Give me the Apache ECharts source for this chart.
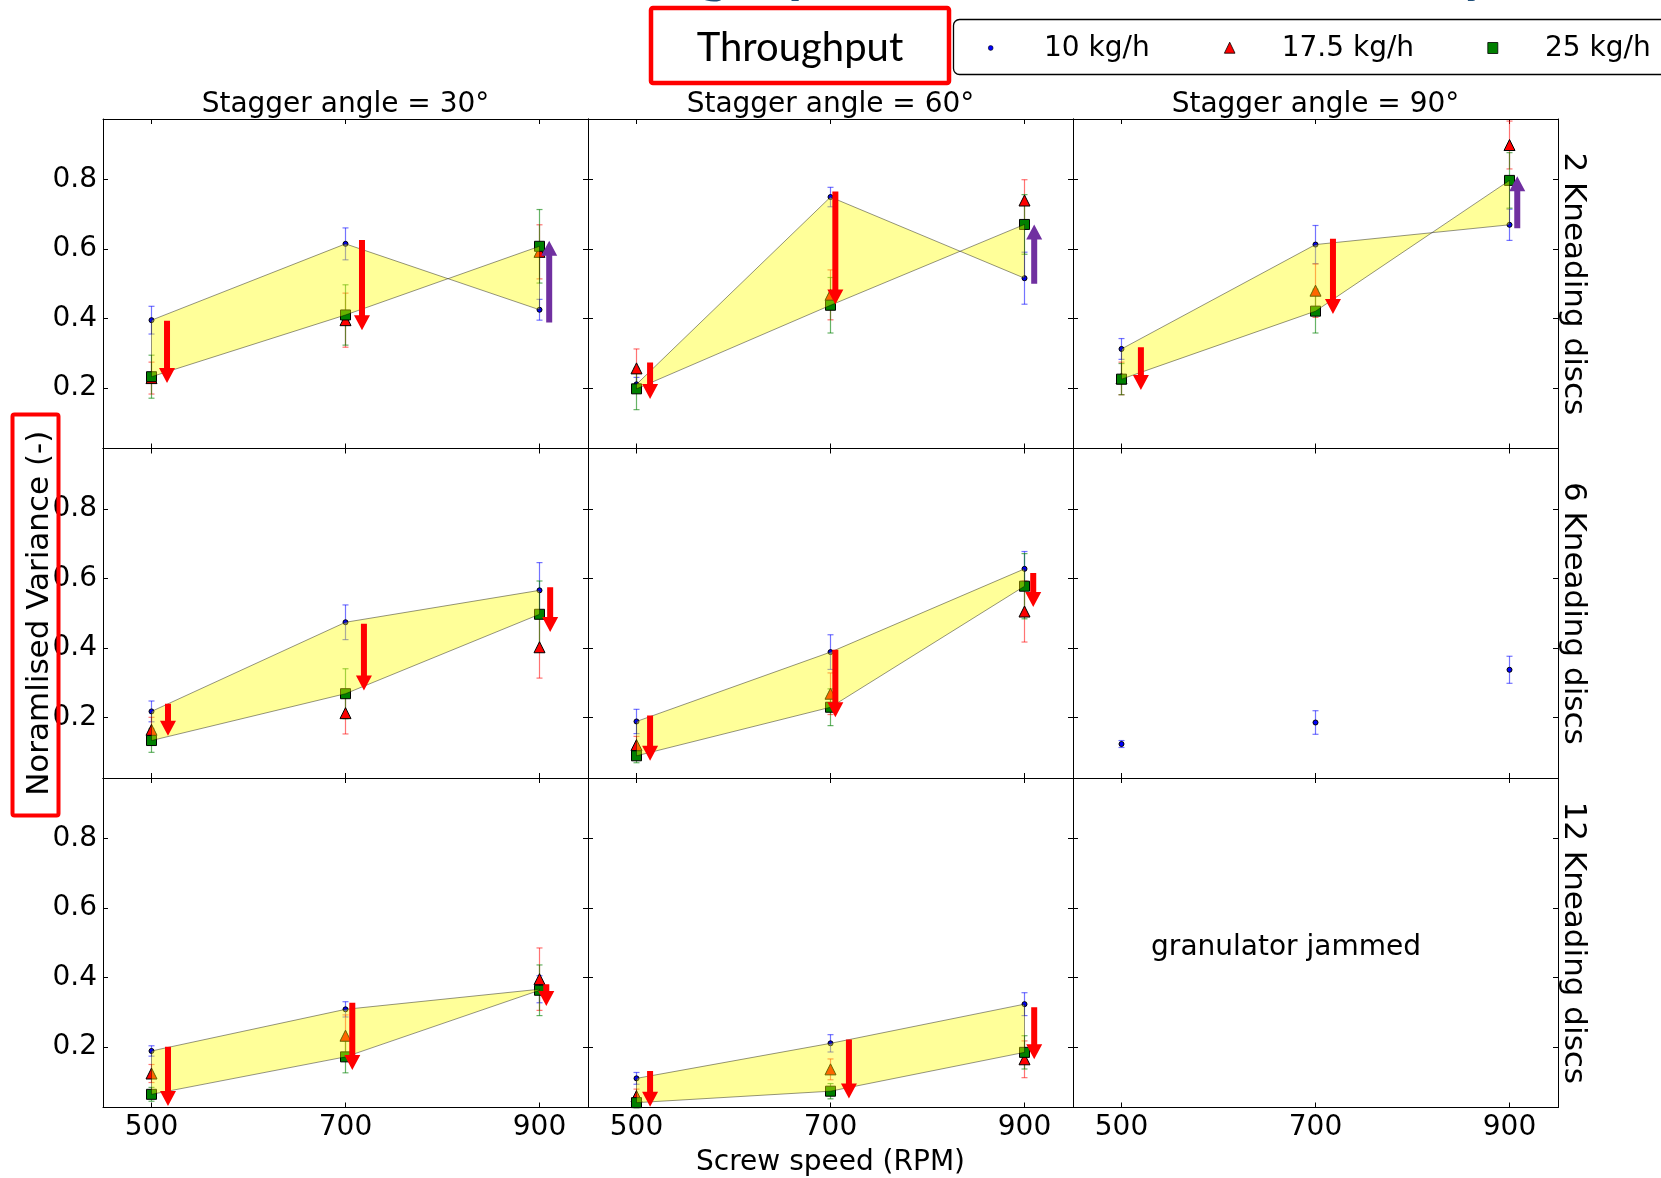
<!DOCTYPE html>
<html>
<head>
<meta charset="utf-8">
<script src="https://cdn.jsdelivr.net/npm/echarts@6/dist/echarts.min.js"></script>
<style>
html,body{margin:0;padding:0;background:#fff;}
#c{width:1661px;height:1178px;}
</style>
</head>
<body>
<div id="c"></div>
<script>
// ---------------- DATA ----------------
const speeds = [500, 700, 900];                       // Screw speed (RPM)
const yTicks = [0.2, 0.4, 0.6, 0.8];
const staggerTitles = ['Stagger angle = 30°', 'Stagger angle = 60°', 'Stagger angle = 90°'];
const rowLabels = ['2 Kneading discs', '6 Kneading discs', '12 Kneading discs'];
const seriesNames = ['10 kg/h', '17.5 kg/h', '25 kg/h'];
const jammedText = 'granulator jammed';
const jammedPos = [[530, 0.487]];                     // panel 9 annotation anchor (data coords)

// panels in row-major order: row = kneading discs (2, 6, 12), column = stagger angle (30, 60, 90)
const mean10 = [
  [0.395, 0.615, 0.425], [0.210, 0.750, 0.516], [0.312, 0.613, 0.670],
  [0.217, 0.474, 0.566], [0.188, 0.388, 0.628], [0.123, 0.185, 0.337],
  [0.188, 0.308, 0.366], [0.109, 0.210, 0.323], null
];
const err10 = [
  [0.040, 0.046, 0.030], [0.020, 0.028, 0.075], [0.030, 0.055, 0.045],
  [0.030, 0.050, 0.080], [0.035, 0.050, 0.050], [0.010, 0.034, 0.039],
  [0.015, 0.022, 0.039], [0.017, 0.025, 0.033], null
];
const mean17 = [
  [0.228, 0.395, 0.592], [0.256, 0.468, 0.740], [0.227, 0.480, 0.900],
  [0.164, 0.212, 0.402], [0.120, 0.268, 0.505], null,
  [0.123, 0.232, 0.395], [0.058, 0.135, 0.164], null
];
const err17 = [
  [0.046, 0.078, 0.078], [0.056, 0.072, 0.060], [0.047, 0.077, 0.069],
  [0.036, 0.060, 0.089], [0.025, 0.060, 0.088], null,
  [0.026, 0.060, 0.090], [0.020, 0.030, 0.053], null
];
const mean25 = [
  [0.232, 0.410, 0.608], [0.197, 0.438, 0.671], [0.225, 0.421, 0.798],
  [0.133, 0.268, 0.497], [0.089, 0.229, 0.578], null,
  [0.063, 0.171, 0.363], [0.039, 0.072, 0.184], null
];
const err25 = [
  [0.062, 0.087, 0.106], [0.060, 0.080, 0.086], [0.045, 0.063, 0.080],
  [0.034, 0.072, 0.096], [0.020, 0.053, 0.094], null,
  [0.020, 0.046, 0.073], [0.015, 0.022, 0.048], null
];
// trend arrows: [screw speed position, from value, to value]
const arrows = [
  [[516, 0.393, 0.214], [717, 0.626, 0.366], [910, 0.388, 0.624]],
  [[514, 0.273, 0.168], [705, 0.766, 0.440], [910, 0.500, 0.671]],
  [[520, 0.317, 0.194], [718, 0.630, 0.413], [908, 0.660, 0.810]],
  [[517, 0.239, 0.147], [719, 0.470, 0.277], [911, 0.575, 0.446]],
  [[514, 0.205, 0.075], [705, 0.395, 0.200], [909, 0.616, 0.518]],
  [],
  [[517, 0.200, 0.029], [707, 0.327, 0.133], [907, 0.380, 0.318]],
  [[514, 0.130, 0.027], [719, 0.221, 0.051], [910, 0.314, 0.164]],
  []
];

// ---------------- LAYOUT / STYLE ----------------
const FONT = "'DejaVu Sans', sans-serif";
const colLeft = [103, 588, 1073];
const rowTop = [119, 448.5, 778];
const PW = 485, PH = 329.5;
const markerStyles = [
  {symbol: 'circle', size: 5, color: '#0000ff', err: 'rgba(0,0,255,0.55)'},
  {symbol: 'triangle', size: 11, color: '#ff0000', err: 'rgba(255,0,0,0.55)'},
  {symbol: 'rect', size: 10, color: '#008000', err: 'rgba(0,128,0,0.6)'}
];
const means = [mean10, mean17, mean25];
const errs = [err10, err17, err25];

function errRender(color) {
  return function (params, api) {
    const x = api.value(0), lo = api.value(1), hi = api.value(2);
    const a = api.coord([x, lo]), b = api.coord([x, hi]);
    const st = {stroke: color, lineWidth: 1.2};
    return {type: 'group', children: [
      {type: 'line', shape: {x1: a[0], y1: a[1], x2: b[0], y2: b[1]}, style: st},
      {type: 'line', shape: {x1: a[0] - 3, y1: a[1], x2: a[0] + 3, y2: a[1]}, style: st},
      {type: 'line', shape: {x1: b[0] - 3, y1: b[1], x2: b[0] + 3, y2: b[1]}, style: st}
    ]};
  };
}
function fillRender(params, api) {
  if (params.dataIndexInside !== 0) return null;
  const pts = [];
  for (let i = 0; i < params.dataInsideLength; i++) {
    pts.push(api.coord([api.value(0, i), api.value(1, i)]));
  }
  return {type: 'polygon', shape: {points: pts},
    style: {fill: 'rgba(255,255,0,0.4)', stroke: 'rgba(0,0,0,0.42)', lineWidth: 1}};
}
function arrowRender(params, api) {
  const x = api.value(0), y0 = api.value(1), y1 = api.value(2);
  const a = api.coord([x, y0]), b = api.coord([x, y1]);
  const dir = b[1] > a[1] ? 1 : -1;
  const hl = 15, hw = 8, sw = 3;
  const cx = a[0], hy = b[1] - dir * hl;
  const color = y1 > y0 ? '#7030a0' : '#ff0000';
  return {type: 'polygon', shape: {points: [
    [cx - sw, a[1]], [cx + sw, a[1]], [cx + sw, hy], [cx + hw, hy],
    [cx, b[1]], [cx - hw, hy], [cx - sw, hy]]},
    style: {fill: color}};
}

const grids = [], xAxes = [], yAxes = [], series = [];
const axisLineStyle = {color: '#000', width: 1};
for (let p = 0; p < 9; p++) {
  const r = Math.floor(p / 3), c = p % 3;
  grids.push({left: colLeft[c], top: rowTop[r], width: PW, height: PH});
  const tick = {show: true, inside: true, length: 5, lineStyle: {color: '#000', width: 1}};
  xAxes.push({
    gridIndex: p, type: 'value', min: 450, max: 950, position: 'bottom',
    axisLine: {show: true, onZero: false, lineStyle: axisLineStyle},
    axisTick: Object.assign({customValues: speeds}, tick),
    axisLabel: {show: r === 2, customValues: speeds, margin: 6, fontSize: 28, color: '#000', fontFamily: FONT},
    splitLine: {show: false},
    name: p === 7 ? 'Screw speed (RPM)' : '', nameLocation: 'middle', nameGap: 41,
    nameTextStyle: {fontSize: 28, color: '#000', fontFamily: FONT}
  });
  xAxes.push({
    gridIndex: p, type: 'value', min: 450, max: 950, position: 'top',
    axisLine: {show: true, onZero: false, lineStyle: axisLineStyle},
    axisTick: Object.assign({customValues: speeds}, tick),
    axisLabel: {show: false}, splitLine: {show: false},
    name: r === 0 ? staggerTitles[c] : '', nameLocation: 'middle', nameGap: 0,
    nameTextStyle: {fontSize: 28, color: '#000', fontFamily: FONT}
  });
  yAxes.push({
    gridIndex: p, type: 'value', min: 0.025, max: 0.975, position: 'left',
    axisLine: {show: true, onZero: false, lineStyle: axisLineStyle},
    axisTick: Object.assign({customValues: yTicks}, tick),
    axisLabel: {show: c === 0, customValues: yTicks, margin: 6, fontSize: 28, color: '#000', fontFamily: FONT},
    splitLine: {show: false},
    name: p === 3 ? 'Noramlised Variance (-)' : '', nameLocation: 'middle', nameGap: 48,
    nameMoveOverlap: false,
    nameTextStyle: {fontSize: 31, color: '#000', fontFamily: FONT}
  });
  yAxes.push({
    gridIndex: p, type: 'value', min: 0.025, max: 0.975, position: 'right',
    axisLine: {show: true, onZero: false, lineStyle: axisLineStyle},
    axisTick: Object.assign({customValues: yTicks}, tick),
    axisLabel: {show: false}, splitLine: {show: false},
    name: c === 2 ? rowLabels[r] : '', nameLocation: 'middle', nameGap: 0, nameRotate: -90,
    nameTextStyle: {fontSize: 31, color: '#000', fontFamily: FONT}
  });
  const xi = 2 * p, yi = 2 * p;
  for (let k = 0; k < 3; k++) {
    const m = means[k][p], e = errs[k][p];
    if (!m) continue;
    const ms = markerStyles[k];
    series.push({
      type: 'custom', name: seriesNames[k] + ' error', xAxisIndex: xi, yAxisIndex: yi, z: 2,
      renderItem: errRender(ms.err), encode: {x: 0, y: [1, 2]},
      data: speeds.map((s, i) => [s, m[i] - e[i], m[i] + e[i]]), silent: true
    });
    series.push({
      type: 'scatter', name: seriesNames[k], xAxisIndex: xi, yAxisIndex: yi, z: 3,
      symbol: ms.symbol, symbolSize: ms.size,
      itemStyle: {color: ms.color, borderColor: '#000', borderWidth: 1, opacity: 1},
      data: speeds.map((s, i) => [s, m[i]]), silent: true
    });
  }
  if (mean10[p] && mean25[p]) {
    const poly = speeds.map((s, i) => [s, mean10[p][i]])
      .concat(speeds.map((s, i) => [s, mean25[p][i]]).reverse());
    series.push({
      type: 'custom', name: 'range', xAxisIndex: xi, yAxisIndex: yi, z: 4,
      renderItem: fillRender, encode: {x: 0, y: 1}, data: poly, silent: true
    });
  }
  if (arrows[p].length) {
    series.push({
      type: 'custom', name: 'trend', xAxisIndex: xi, yAxisIndex: yi, z: 5,
      renderItem: arrowRender, encode: {x: 0, y: [1, 2]}, data: arrows[p], silent: true
    });
  }
  if (p === 8) {
    series.push({
      type: 'scatter', name: 'note', xAxisIndex: xi, yAxisIndex: yi, z: 5,
      symbolSize: 1, itemStyle: {color: '#fff', opacity: 1}, data: jammedPos, silent: true,
      label: {show: true, position: 'right', distance: 0, formatter: jammedText,
        fontSize: 28, color: '#000', opacity: 1, fontFamily: FONT}
    });
  }
}

const ts = (o) => Object.assign({align: o.textAlign, verticalAlign: o.textVerticalAlign}, o);
const graphic = [
  // clipped slide title fragments at the very top
  {type: 'text', x: 699, y: -28, z: 50, style: ts({text: 'g', font: 'bold 58px Lato', fill: '#1f4e79', textAlign: 'left', textVerticalAlign: 'middle'})},
  {type: 'text', x: 788, y: -28, z: 50, style: ts({text: 'p', font: 'bold 58px Lato', fill: '#1f4e79', textAlign: 'left', textVerticalAlign: 'middle'})},
  {type: 'text', x: 1461, y: -28, z: 50, style: ts({text: 'y', font: 'bold 58px Lato', fill: '#1f4e79', textAlign: 'left', textVerticalAlign: 'middle'})},
  // Throughput box
  {type: 'rect', z: 60, shape: {x: 651, y: 8, width: 298, height: 75, r: 2}, style: {fill: '#fff', stroke: '#ff0000', lineWidth: 4.5}},
  {type: 'text', z: 61, x: 800, y: 48, style: ts({text: 'Throughput', font: '40px Lato', fill: '#000', textAlign: 'center', textVerticalAlign: 'middle'})},
  // legend
  {type: 'rect', z: 60, shape: {x: 953.5, y: 19.5, width: 740, height: 55, r: 6}, style: {fill: '#fff', stroke: '#000', lineWidth: 1.3}},
  {type: 'circle', z: 61, shape: {cx: 990.7, cy: 48, r: 2.4}, style: {fill: '#0000ff', stroke: '#000', lineWidth: 0.6}},
  {type: 'text', z: 61, x: 1044, y: 49, style: ts({text: seriesNames[0], font: "28px 'DejaVu Sans'", fill: '#000', textAlign: 'left', textVerticalAlign: 'middle'})},
  {type: 'polygon', z: 61, shape: {points: [[1229.7, 42.2], [1235, 53.2], [1224.4, 53.2]]}, style: {fill: '#ff0000', stroke: '#000', lineWidth: 0.8}},
  {type: 'text', z: 61, x: 1281.7, y: 49, style: ts({text: seriesNames[1], font: "28px 'DejaVu Sans'", fill: '#000', textAlign: 'left', textVerticalAlign: 'middle'})},
  {type: 'rect', z: 61, shape: {x: 1487.8, y: 42.5, width: 10, height: 11}, style: {fill: '#008000', stroke: '#000', lineWidth: 0.8}},
  {type: 'text', z: 61, x: 1545, y: 49, style: ts({text: seriesNames[2], font: "28px 'DejaVu Sans'", fill: '#000', textAlign: 'left', textVerticalAlign: 'middle'})},
  // red box around the y-axis label
  {type: 'rect', z: 60, shape: {x: 12.5, y: 414.5, width: 46, height: 401, r: 2}, style: {fill: 'none', stroke: '#ff0000', lineWidth: 4}}
];

const chart = echarts.init(document.getElementById('c'), null, {renderer: 'canvas'});
chart.setOption({
  animation: false,
  backgroundColor: '#fff',
  textStyle: {fontFamily: FONT},
  grid: grids, xAxis: xAxes, yAxis: yAxes, series: series, graphic: graphic
});
</script>
</body>
</html>
